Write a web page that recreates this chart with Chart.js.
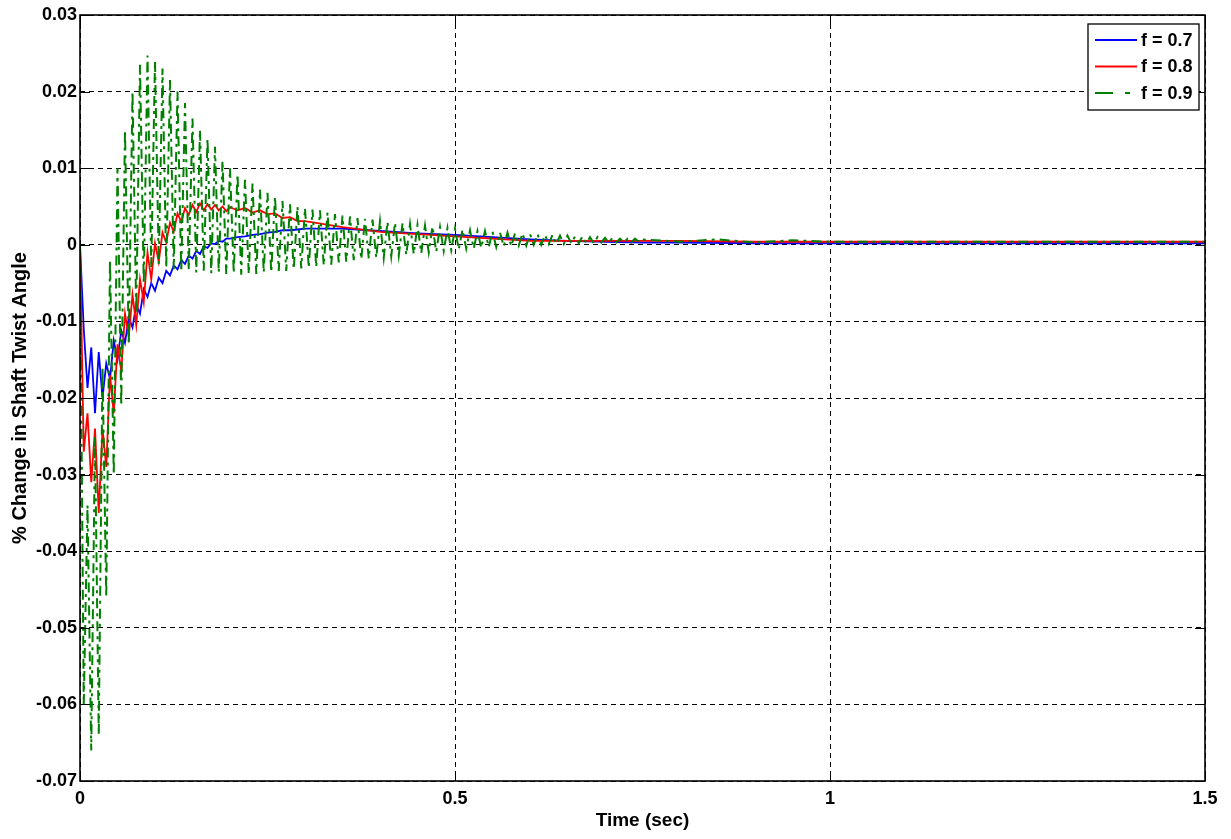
<!DOCTYPE html>
<html><head><meta charset="utf-8">
<script src="https://cdn.jsdelivr.net/npm/chart.js@4.4.1/dist/chart.umd.min.js"></script>
<style>html,body{margin:0;padding:0;background:#fff;}canvas{display:block;}</style>
</head><body>
<canvas id="c" width="1231" height="839"></canvas>
<script>
// ---------- DATA ----------
const seriesLabels = ['f = 0.7', 'f = 0.8', 'f = 0.9'];
const xTickLabels = ['0', '0.5', '1', '1.5'];
const yTickLabels = ['-0.07','-0.06','-0.05','-0.04','-0.03','-0.02','-0.01','0','0.01','0.02','0.03'];
const xTitle = 'Time (sec)';
const yTitle = '% Change in Shaft Twist Angle';

// sample times for f = 0.7 and f = 0.8 (sec)
const timeRB = [
  0,0.005,0.01,0.015,0.02,0.025,0.03,0.035,0.04,0.045,
  0.05,0.055,0.06,0.065,0.07,0.075,0.08,0.085,0.09,0.095,
  0.1,0.105,0.11,0.115,0.12,0.125,0.13,0.135,0.14,0.145,
  0.15,0.155,0.16,0.165,0.17,0.175,0.18,0.185,0.19,0.195,
  0.2,
  0.21,0.22,0.23,0.24,0.25,0.26,0.27,0.28,0.29,0.3,
  0.35,0.4,0.45,0.5,0.55,0.6,0.65,0.7,0.75,0.8,0.9,1,1.1,1.2,1.3,1.4,1.5
];
// f = 0.7 (blue)
const blueF07 = [
  0,-0.011,-0.0187,-0.0134,-0.022,-0.014,-0.020,-0.0155,-0.0175,-0.0125,
  -0.015,-0.0112,-0.0128,-0.0095,-0.0108,-0.0078,-0.009,-0.0058,-0.0068,-0.005,
  -0.006,-0.0043,-0.005,-0.0034,-0.004,-0.0027,-0.0032,-0.002,-0.0025,-0.0014,
  -0.0018,-0.0008,-0.0012,-0.0002,-0.0004,0.0002,0.0001,0.0005,0.0004,0.0008,
  0.0008,
  0.001,0.0011,0.0013,0.0014,0.0016,0.0017,0.0019,0.0019,0.002,0.0021,
  0.0021,0.0018,0.0015,0.0013,0.001,0.0007,0.0005,0.0004,0.0003,0.0003,0.0002,0.0002,0.0002,0.0002,0.0002,0.0002,0.0002
];
// f = 0.8 (red)
const redF08 = [
  0,-0.027,-0.022,-0.031,-0.024,-0.035,-0.024,-0.029,-0.017,-0.022,
  -0.013,-0.0165,-0.009,-0.012,-0.0065,-0.0105,-0.0045,-0.0075,-0.001,-0.0045,
  0.0002,-0.0022,0.0016,0.0003,0.0029,0.0017,0.0041,0.003,0.0048,0.0039,
  0.0052,0.0043,0.0054,0.0045,0.0053,0.0046,0.0052,0.0045,0.005,0.0044,
  0.0049,
  0.0045,0.0048,0.0042,0.0045,0.004,0.0041,0.0035,0.0036,0.0031,0.0031,
  0.0023,0.0017,0.0014,0.0011,0.0008,0.0005,0.0005,0.0005,0.0005,0.0005,0.0004,0.0004,0.0004,0.0004,0.0004,0.0004,0.0004
];

// sample times for f = 0.9 (sec)
const timeGreen = [
  0,0.005,0.01,0.015,0.02,0.025,0.03,0.035,0.04,0.045,
  0.05,0.055,0.06,0.065,0.07,0.075,0.08,0.085,0.09,0.095,
  0.1,0.105,0.11,0.115,0.12,0.125,0.13,0.135,0.14,0.145,
  0.15,0.155,0.16,0.165,0.17,0.175,0.18,0.185,0.19,0.195,
  0.2,0.205,0.21,0.215,0.22,0.225,0.23,0.235,0.24,0.245,
  0.25,0.255,0.26,0.265,0.27,0.275,0.28,0.285,0.29,0.295,
  0.3,0.305,0.31,0.315,0.32,0.325,0.33,0.335,0.34,0.345,
  0.35,0.355,0.36,0.365,0.37,0.375,0.38,0.385,0.39,0.395,
  0.4,0.405,0.41,0.415,0.42,0.425,0.43,0.435,0.44,0.445,
  0.45,0.455,0.46,0.465,0.47,0.475,0.48,0.485,0.49,0.495,
  0.5,0.505,0.51,0.515,0.52,0.525,0.53,0.535,0.54,0.545,
  0.55,0.555,0.56,0.565,0.57,0.575,0.58,0.585,0.59,0.595,
  0.6,0.605,0.61,0.615,0.62,0.625,0.63,0.635,0.64,0.645,
  0.65,0.655,0.66,0.665,0.67,0.675,0.68,0.685,0.69,0.695,
  0.7,0.705,0.71,0.715,0.72,0.725,0.73,0.735,0.74,0.745,
  0.75,
  0.8,0.85,0.9,0.95,1,1.5
];
// f = 0.9 (green)
const greenF09 = [
  0,-0.060,-0.034,-0.066,-0.025,-0.064,-0.016,-0.046,-0.002,-0.030,
  0.010,-0.021,0.015,-0.013,0.020,-0.009,0.0235,-0.005,0.0247,-0.003,
  0.024,-0.0025,0.023,-0.003,0.0215,-0.0032,0.020,-0.0035,0.0185,-0.0033,
  0.0165,-0.0036,0.015,-0.0034,0.0138,-0.0037,0.0128,-0.0036,0.011,-0.0038,
  0.0100,-0.0037,0.0092,-0.0039,0.0085,-0.0038,0.0080,-0.0038,0.0072,-0.0036,
  0.0068,-0.0036,0.0063,-0.0034,0.0057,-0.0034,0.0053,-0.0032,0.0050,-0.0031,
  0.0048,-0.0030,0.0046,-0.0029,0.0045,-0.0027,0.0042,-0.0026,0.0040,-0.0023,
  0.0038,-0.0022,0.0037,-0.0020,0.0035,-0.0019,0.0034,-0.0018,0.0033,-0.0017,
  0.0031,-0.0017,0.0030,-0.0015,0.0029,-0.0014,0.0028,-0.0013,0.0027,-0.0012,
  0.0026,-0.0011,0.0025,-0.0010,0.0024,-0.0009,0.0023,-0.0008,0.0022,-0.0007,
  0.0021,-0.0006,0.0020,-0.0005,0.0019,-0.0005,0.0018,-0.0004,0.0018,-0.0003,
  0.0017,-0.0003,0.0016,-0.0002,0.0016,-0.0002,0.0015,-0.0001,0.0015,-0.0001,
  0.0014,0.0000,0.0014,0.0000,0.0013,0.0001,0.0013,0.0001,0.0012,0.0001,
  0.0012,0.0002,0.0011,0.0002,0.0011,0.0002,0.0010,0.0002,0.0010,0.0003,
  0.0009,0.0003,0.0009,0.0003,0.0008,0.0003,0.0008,0.0003,0.0008,0.0004,
  0.0007,
  0.0004,0.0007,0.0003,0.0006,0.0004,0.0004
];

// ---------- CHART ----------
const FONT = "'Liberation Sans', Arial, sans-serif";
Chart.defaults.font.family = FONT;
Chart.defaults.color = '#000';

function pts(xs, ys) { return xs.map((x, i) => ({x: x, y: ys[i]})); }

const colors = ['#0000ff', '#ff0000', '#008000'];
const plotDash = [[], [], [10, 5, 3, 5]];
const legendDash = [[], [], [18, 12, 5, 12]];

const boxPlugin = {
  id: 'matlabBox',
  afterDatasetsDraw(chart) {
    const {ctx, chartArea: a, scales} = chart;
    ctx.save();
    ctx.strokeStyle = '#000';
    ctx.lineWidth = 1;
    ctx.setLineDash([]);
    const tl = 10;
    ctx.beginPath();
    scales.y.ticks.forEach(t => {
      const py = Math.round(scales.y.getPixelForValue(t.value)) + 0.5;
      ctx.moveTo(a.left, py); ctx.lineTo(a.left + tl, py);
      ctx.moveTo(a.right, py); ctx.lineTo(a.right - tl, py);
    });
    scales.x.ticks.forEach(t => {
      const px = Math.round(scales.x.getPixelForValue(t.value)) + 0.5;
      ctx.moveTo(px, a.bottom); ctx.lineTo(px, a.bottom - tl);
      ctx.moveTo(px, a.top); ctx.lineTo(px, a.top + tl);
    });
    ctx.stroke();
    ctx.lineWidth = 1.6;
    ctx.strokeRect(a.left, a.top, a.right - a.left, a.bottom - a.top);

    // legend
    const L = {left: 1088, top: 24, w: 111, h: 86};
    ctx.fillStyle = '#fff';
    ctx.fillRect(L.left, L.top, L.w, L.h);
    ctx.lineWidth = 1.3;
    ctx.strokeStyle = '#000';
    ctx.strokeRect(L.left, L.top, L.w, L.h);
    const rows = [16, 42.5, 69];
    ctx.font = "bold 18px " + FONT;
    ctx.textBaseline = 'middle';
    ctx.textAlign = 'left';
    seriesLabels.forEach((lab, i) => {
      const y = L.top + rows[i];
      ctx.strokeStyle = colors[i];
      ctx.lineWidth = 2;
      ctx.setLineDash(legendDash[i]);
      ctx.beginPath();
      ctx.moveTo(1095, y); ctx.lineTo(1137, y);
      ctx.stroke();
      ctx.setLineDash([]);
      ctx.fillStyle = '#000';
      ctx.fillText(lab, 1141, y + 1);
    });
    ctx.restore();
  }
};

new Chart(document.getElementById('c'), {
  type: 'line',
  data: {
    datasets: [
      {label: seriesLabels[0], data: pts(timeRB, blueF07), borderColor: colors[0], borderWidth: 1.8, order: 2},
      {label: seriesLabels[1], data: pts(timeRB, redF08), borderColor: colors[1], borderWidth: 1.8, order: 1},
      {label: seriesLabels[2], data: pts(timeGreen, greenF09), borderColor: colors[2], borderWidth: 2, borderDash: plotDash[2], order: 0}
    ]
  },
  options: {
    responsive: false,
    animation: false,
    devicePixelRatio: 1,
    parsing: false,
    normalized: true,
    elements: {point: {radius: 0}, line: {tension: 0, fill: false}},
    layout: {padding: {top: 15, right: 26, bottom: 0, left: 0}},
    plugins: {legend: {display: false}, tooltip: {enabled: false}},
    scales: {
      x: {
        type: 'linear', min: 0, max: 1.5,
        afterFit(s) { s.height = 58; },
        ticks: {stepSize: 0.5, autoSkip: false, maxRotation: 0, padding: 7, color: '#000',
                font: {size: 18, weight: 'bold'}, callback: (v, i) => xTickLabels[i]},
        grid: {color: '#000', lineWidth: 1, drawTicks: false},
        border: {display: false, dash: [5, 4]},
        title: {display: true, text: xTitle, color: '#000', font: {size: 19, weight: 'bold'}, padding: {top: 0, bottom: 7}}
      },
      y: {
        type: 'linear', min: -0.07, max: 0.03,
        afterFit(s) { s.width = 80; },
        ticks: {stepSize: 0.01, autoSkip: false, padding: 3, color: '#000',
                font: {size: 18, weight: 'bold'}, callback: (v, i) => yTickLabels[i]},
        grid: {color: '#000', lineWidth: 1, drawTicks: false},
        border: {display: false, dash: [5, 4]},
        title: {display: true, text: yTitle, color: '#000', font: {size: 20, weight: 'bold'}, padding: {top: 8, bottom: 0}}
      }
    }
  },
  plugins: [boxPlugin]
});
</script>
</body></html>
